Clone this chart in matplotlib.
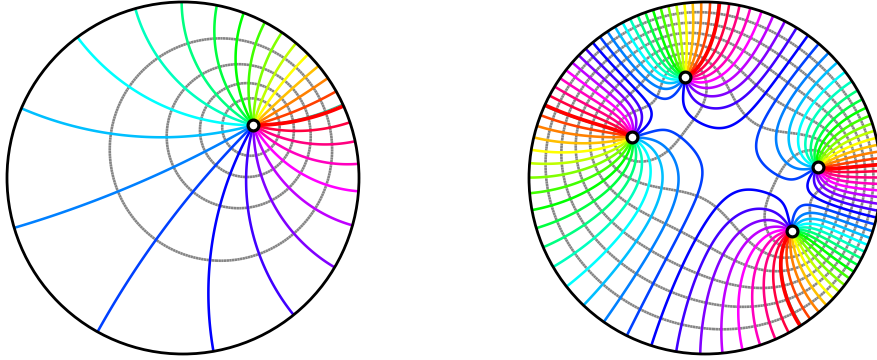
import numpy as np
import matplotlib
matplotlib.use("Agg")
import matplotlib.pyplot as plt
from matplotlib.colors import hsv_to_rgb
from matplotlib.patches import Circle

# zeros of the two Blaschke products
zeros_left = [0.40 + 0.30j]
zeros_right = [-0.114 + 0.572j, -0.416 + 0.231j, 0.640 + 0.0625j, 0.493 - 0.301j]
levels_left = [0.215, 0.345, 0.51, 0.73]
levels_right = [0.066, 0.125, 0.215, 0.345, 0.51, 0.73]
n_phases = 24

FIG_W, FIG_H = 877, 360
RADIUS_PX = 176
CENTER_LEFT = (183, 178)
CENTER_RIGHT = (705, 178)


def blaschke(z, zeros):
    b = np.ones_like(z)
    for a in zeros:
        b = b * (z - a) / (1 - np.conj(a) * z)
    return b


def phase_line(ax, x, y, b, phi, color, lw, clip):
    rot = b * np.exp(-1j * phi)
    field = np.ma.masked_where(rot.real <= 0, rot.imag)
    cs = ax.contour(x, y, field, levels=[0], colors=[color], linewidths=lw)
    cs.set_clip_path(clip)


def draw_disk(fig, center, zeros, levels):
    # axes box in figure fractions, one data unit is RADIUS_PX pixels
    cx, cy = center
    rect = [(cx - 1.05 * RADIUS_PX) / FIG_W, (FIG_H - cy - 1.05 * RADIUS_PX) / FIG_H,
            2.1 * RADIUS_PX / FIG_W, 2.1 * RADIUS_PX / FIG_H]
    ax = fig.add_axes(rect)
    ax.set_xlim(-1.05, 1.05)
    ax.set_ylim(-1.05, 1.05)
    ax.axis("off")

    xs = np.linspace(-1.05, 1.05, 1600)
    x, y = np.meshgrid(xs, xs)
    b = blaschke(x + 1j * y, zeros)
    clip = Circle((0, 0), 1.0, transform=ax.transData)

    cs = ax.contour(x, y, np.abs(b), levels=levels, colors="#858585", linewidths=1.9,
                    linestyles=[(0, (0.9, 0.12))])
    cs.set_clip_path(clip)

    for k in range(1, n_phases):
        phase_line(ax, x, y, b, 2 * np.pi * k / n_phases, hsv_to_rgb([k / n_phases, 1, 1]), 1.85, clip)

    # the red line is heavier and has a thin fringe on its upper side
    phase_line(ax, x, y, b, 0.035, "#20c8a0", 0.8, clip)
    phase_line(ax, x, y, b, 0.0, "#ff0000", 2.7, clip)

    ax.add_patch(Circle((0, 0), 1.0, fill=False, edgecolor="black", linewidth=2.0, zorder=5))
    ax.plot([a.real for a in zeros], [a.imag for a in zeros], "o", ms=7.8, mfc="white",
            mec="black", mew=2.3, zorder=6)


fig = plt.figure(figsize=(FIG_W / 100, FIG_H / 100), dpi=100)
draw_disk(fig, CENTER_LEFT, zeros_left, levels_left)
draw_disk(fig, CENTER_RIGHT, zeros_right, levels_right)
fig.savefig("out.png", dpi=100)
